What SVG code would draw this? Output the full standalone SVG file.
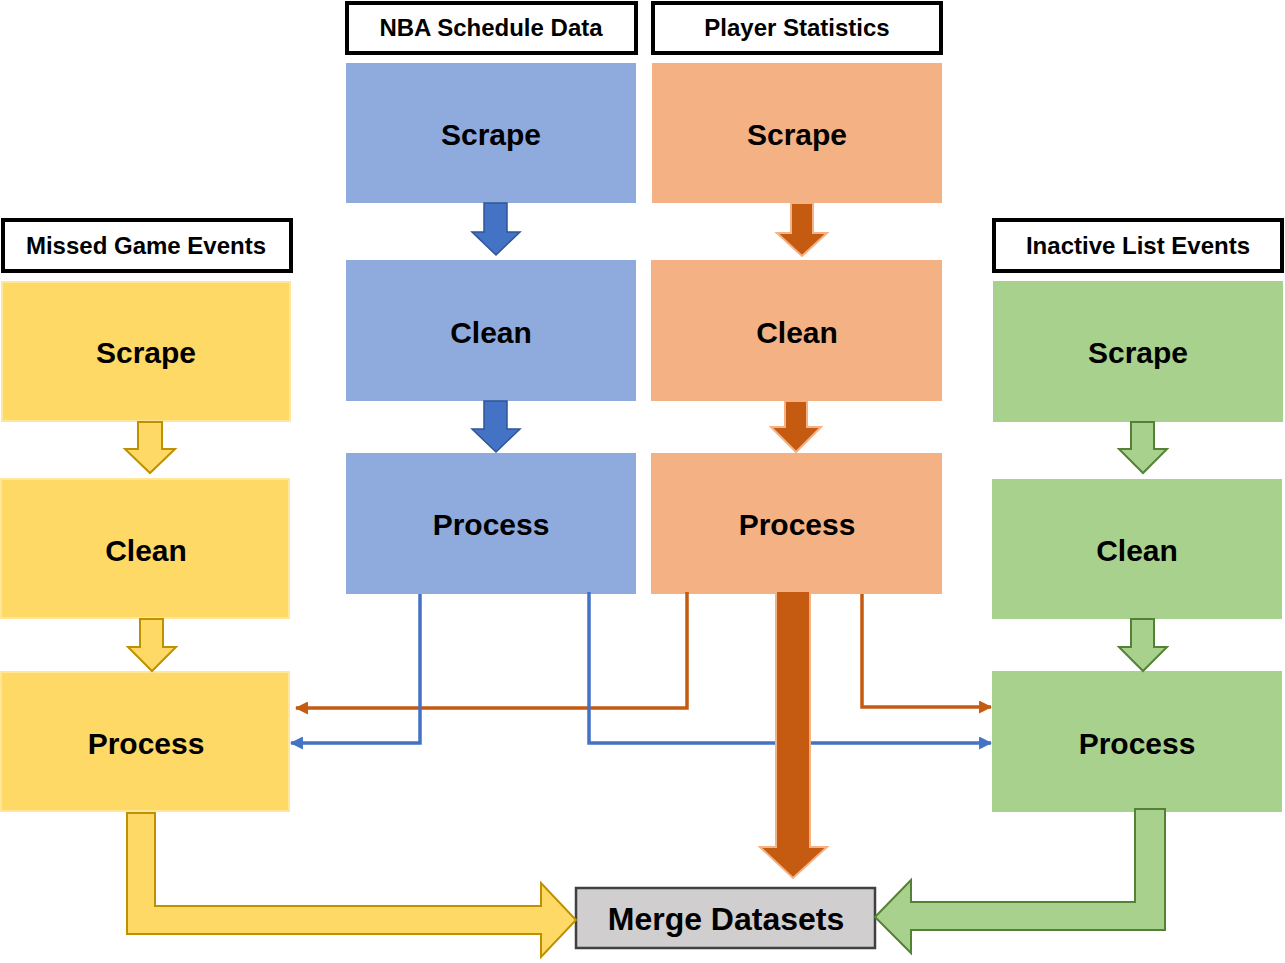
<svg xmlns="http://www.w3.org/2000/svg" width="1285" height="963" viewBox="0 0 1285 963">
<style>
text{font-family:"Liberation Sans",Arial,sans-serif;font-weight:bold;fill:#000;text-anchor:middle}
.hdr rect{fill:#fff;stroke:#000;stroke-width:4}
.hdr text{font-size:24px}
.step text{font-size:30px}
.blue rect{fill:#8FAADC}
.orange rect{fill:#F4B183}
.yellow rect{fill:#FFD966;stroke:#FFE699;stroke-width:2}
.green rect{fill:#A9D18E}
.ba-blue{fill:#4472C4;stroke:#2F5597;stroke-width:1.5}
.ba-orange{fill:#C55A11;stroke:#F4B183;stroke-width:2}
.ba-yellow{fill:#FFD966;stroke:#BF9000;stroke-width:2}
.ba-green{fill:#A9D18E;stroke:#548235;stroke-width:2}
.ln{fill:none;stroke-width:3.5}
</style>
<defs>
<marker id="mb" markerUnits="userSpaceOnUse" viewBox="0 0 12 12" refX="11" refY="6" markerWidth="13" markerHeight="13" orient="auto"><path d="M0,0 L12,6 L0,12 z" fill="#4472C4"/></marker>
<marker id="mo" markerUnits="userSpaceOnUse" viewBox="0 0 12 12" refX="11" refY="6" markerWidth="13" markerHeight="13" orient="auto"><path d="M0,0 L12,6 L0,12 z" fill="#C55A11"/></marker>
</defs>
<rect width="1285" height="963" fill="#fff"/>

<g id="hdr-nba" class="hdr"><rect x="347" y="3" width="289" height="50"/><text x="491" y="36">NBA Schedule Data</text></g>
<g id="hdr-player" class="hdr"><rect x="653" y="3" width="288" height="50"/><text x="797" y="36">Player Statistics</text></g>
<g id="hdr-missed" class="hdr"><rect x="3" y="220" width="288" height="51"/><text x="146" y="254">Missed Game Events</text></g>
<g id="hdr-inactive" class="hdr"><rect x="994" y="220" width="288" height="51"/><text x="1138" y="254">Inactive List Events</text></g>

<g id="blue-scrape" class="step blue"><rect x="346" y="63" width="290" height="140"/><text x="491" y="145">Scrape</text></g>
<g id="blue-clean" class="step blue"><rect x="346" y="260" width="290" height="141"/><text x="491" y="343">Clean</text></g>
<g id="blue-process" class="step blue"><rect x="346" y="453" width="290" height="141"/><text x="491" y="535">Process</text></g>

<g id="orange-scrape" class="step orange"><rect x="652" y="63" width="290" height="140"/><text x="797" y="145">Scrape</text></g>
<g id="orange-clean" class="step orange"><rect x="651" y="260" width="291" height="141"/><text x="797" y="343">Clean</text></g>
<g id="orange-process" class="step orange"><rect x="651" y="453" width="291" height="141"/><text x="797" y="535">Process</text></g>

<g id="yellow-scrape" class="step yellow"><rect x="2" y="282" width="288" height="139"/><text x="146" y="363">Scrape</text></g>
<g id="yellow-clean" class="step yellow"><rect x="1" y="479" width="288" height="139"/><text x="146" y="561">Clean</text></g>
<g id="yellow-process" class="step yellow"><rect x="1" y="672" width="288" height="139"/><text x="146" y="754">Process</text></g>

<g id="green-scrape" class="step green"><rect x="993" y="281" width="290" height="141"/><text x="1138" y="363">Scrape</text></g>
<g id="green-clean" class="step green"><rect x="992" y="479" width="290" height="140"/><text x="1137" y="561">Clean</text></g>
<g id="green-process" class="step green"><rect x="992" y="671" width="290" height="141"/><text x="1137" y="754">Process</text></g>

<g id="merge"><rect x="576" y="888" width="299" height="60" fill="#D0CECE" stroke="#404040" stroke-width="2.5"/><text x="726" y="930" style="font-size:32px">Merge Datasets</text></g>

<g id="connectors">
<polygon class="ba-blue" points="484,203 507,203 507,232 520,232 496,255 472,232 484,232"/>
<polygon class="ba-blue" points="484,401 507,401 507,429 520,429 496,452 472,429 484,429"/>
<polygon class="ba-orange" points="791,203 813,203 813,233 827,233 802,256 777,233 791,233"/>
<polygon class="ba-orange" points="785,401 807,401 807,427 821,427 796,452 771,427 785,427"/>
<polygon class="ba-yellow" points="138,422 162,422 162,449 175,449 150,473 125,449 138,449"/>
<polygon class="ba-yellow" points="140,619 163,619 163,647 176,647 152,671 128,647 140,647"/>
<polygon class="ba-green" points="1131,422 1154,422 1154,449 1167,449 1143,473 1119,449 1131,449"/>
<polygon class="ba-green" points="1131,619 1154,619 1154,647 1167,647 1143,671 1119,647 1131,647"/>

<polyline class="ln" stroke="#C55A11" points="687,592 687,708 296,708" marker-end="url(#mo)"/>
<polyline class="ln" stroke="#C55A11" points="862,594 862,707 991,707" marker-end="url(#mo)"/>
<polyline class="ln" stroke="#4472C4" points="420,594 420,743 291,743" marker-end="url(#mb)"/>
<polyline class="ln" stroke="#4472C4" points="589,592 589,743 991,743" marker-end="url(#mb)"/>

<polygon class="ba-orange" points="776,591 810,591 810,847 827,847 793,878 760,847 776,847"/>

<polygon class="ba-yellow" points="127,813 155,813 155,906 541,906 541,883 576,920 541,957 541,934 127,934"/>
<polygon class="ba-green" points="1165,809 1135,809 1135,902 911,902 911,880 875,917 911,953 911,930 1165,930"/>
</g>
</svg>
